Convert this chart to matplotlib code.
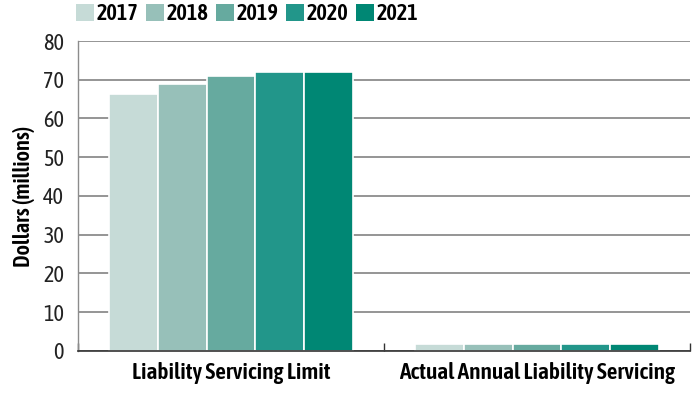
import matplotlib
matplotlib.use("Agg")
import matplotlib.pyplot as plt
from matplotlib import font_manager
from matplotlib.patches import Patch
import numpy as np

# Narrow sans faces, with fallbacks
available = {f.name for f in font_manager.fontManager.ttflist}


def pick(options):
    for n in options:
        if n in available:
            return n
    return "DejaVu Sans"


body = pick(["Asap Condensed", "PT Sans Narrow", "Archivo Narrow"])
plt.rcParams['font.family'] = [body, 'DejaVu Sans']
bold = {"weight": "semibold"}

categories = ["Liability Servicing Limit", "Actual Annual Liability Servicing"]
years = ["2017", "2018", "2019", "2020", "2021"]
values = {
    "2017": [66.2, 1.8],
    "2018": [69.0, 1.8],
    "2019": [71.0, 1.8],
    "2020": [72.0, 1.8],
    "2021": [72.0, 1.8],
}
colors = ["#c6dbd7", "#97c0b9", "#66aa9f", "#22968a", "#008774"]

fig = plt.figure(figsize=(6.99, 3.95), dpi=100)
ax = fig.add_axes([0.1116, 0.1114, 0.8755, 0.7848])

x = np.arange(len(categories))
width = 0.16
for i, (yr, c) in enumerate(zip(years, colors)):
    offs = (i - 2) * width
    ax.bar(x + offs, values[yr], width, color=c, edgecolor="white",
           linewidth=1.2, zorder=3)

ax.set_xlim(-0.5, 1.5)
ax.set_ylim(0, 80)
ax.set_yticks(range(0, 81, 10))
ax.yaxis.grid(True, color="#8c8c8c", linewidth=1.3, zorder=0)
ax.set_xticks(x)
ax.set_xticklabels(categories, fontsize=16.8, **bold)
ax.tick_params(axis="x", length=0, pad=8)
ax.set_xticks([-0.5, 0.5, 1.5], minor=True)
ax.tick_params(axis="x", which="minor", direction="in", length=6,
               width=1, color="#333333")
ax.tick_params(axis="y", length=0, labelsize=16, pad=10, labelcolor="#222222")
ax.set_ylabel("Dollars (millions)", fontsize=16.2, labelpad=6, **bold)

for s in ["top", "right"]:
    ax.spines[s].set_visible(False)
ax.spines["left"].set_color("#8c8c8c")
ax.spines["left"].set_linewidth(1.0)
ax.spines["bottom"].set_color("#333333")
ax.spines["bottom"].set_linewidth(1.2)
ax.spines["bottom"].set_zorder(4)

handles = [Patch(facecolor=c, edgecolor="none") for c in colors]
fig.legend(handles, years, loc="upper left", bbox_to_anchor=(0.09, 1.025),
           ncol=5, frameon=False, prop={"size": 16, "weight": "semibold"},
           handlelength=0.8, handleheight=0.8, handletextpad=0.12,
           columnspacing=0.35, borderaxespad=0.2)

fig.savefig("out.png", dpi=100)
